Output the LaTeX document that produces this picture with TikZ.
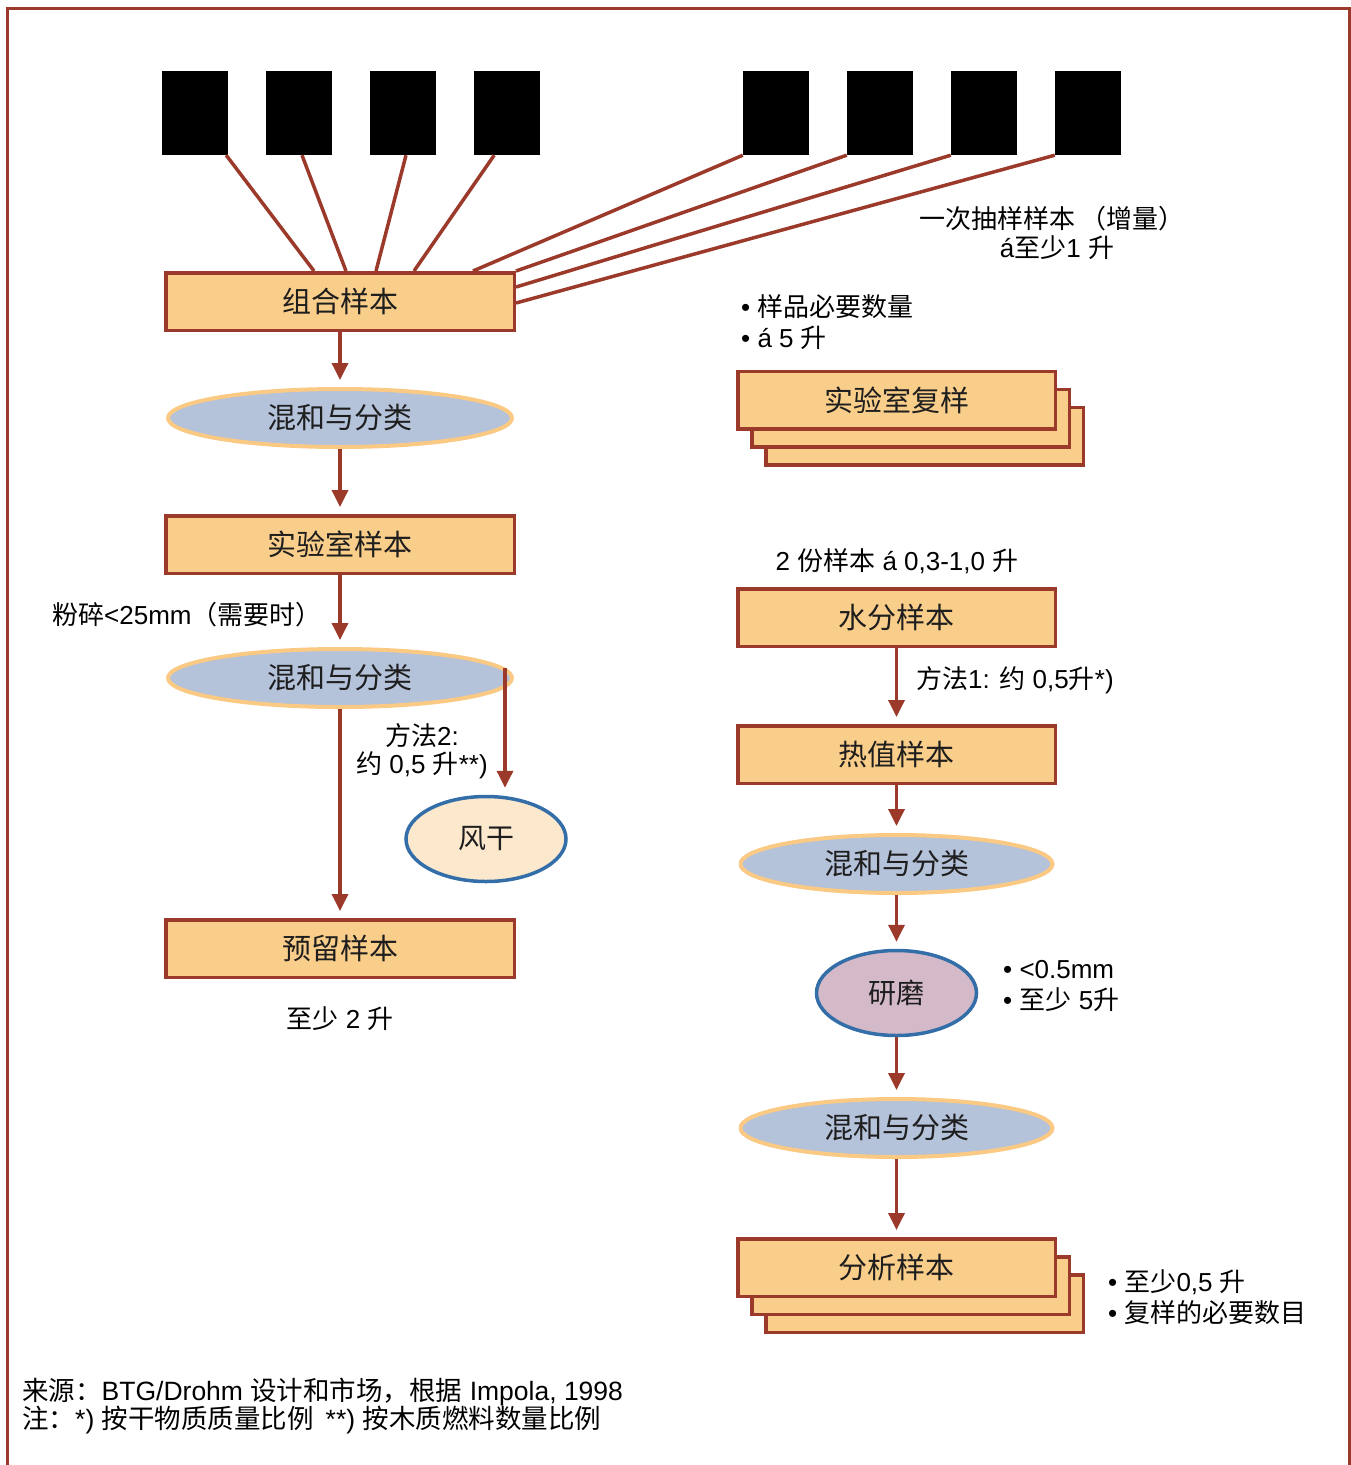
\documentclass[tikz,border=0pt]{standalone}
\usepackage{fontspec}
\setmainfont{Liberation Sans}
\newfontfamily\cjk{Noto Sans CJK SC}
\usetikzlibrary{shapes.geometric,arrows.meta,calc}
\definecolor{brn}{RGB}{155,58,42}
\definecolor{boxfill}{RGB}{249,205,138}
\definecolor{mixfill}{RGB}{180,194,218}
\definecolor{mixline}{RGB}{250,201,131}
\definecolor{airfill}{RGB}{252,233,205}
\definecolor{blueline}{RGB}{52,110,168}
\definecolor{grindfill}{RGB}{212,186,200}
\definecolor{txt}{RGB}{30,30,30}
\newcommand\zh[1]{{\cjk #1}}
\begin{document}
\begin{tikzpicture}[x=1pt,y=-1pt,
  sq/.style={fill=black, minimum width=66pt, minimum height=84pt, inner sep=0pt},
  box/.style={draw=brn, line width=3.5pt, fill=boxfill, minimum width=348.5pt, minimum height=57.5pt, inner sep=0pt, text=txt, font=\cjk\fontsize{29}{31}\selectfont},
  rbox/.style={box, minimum width=317.5pt},
  mix/.style={ellipse, draw=mixline, line width=4pt, fill=mixfill, minimum width=344pt, minimum height=58pt, inner sep=0pt, text=txt, font=\cjk\fontsize{29}{31}\selectfont},
  rmix/.style={mix, minimum width=312pt},
  oval/.style={ellipse, draw=blueline, line width=3.5pt, minimum width=160pt, minimum height=85pt, inner sep=0pt, text=txt, font=\cjk\fontsize{28}{30}\selectfont},
  lnk/.style={brn, line width=3.5pt},
  arr/.style={brn, line width=3.5pt, -{Triangle[length=17pt,width=16pt]}, shorten >=7pt},
  note/.style={inner sep=0pt, text=black, font=\fontsize{26}{31}\selectfont}
]
\useasboundingbox (0,0) rectangle (1351,1465);
% frame
\draw[brn, line width=3pt] (7,1475) -- (7,8) -- (1349,8) -- (1349,1475);

% sample squares
\node[sq] (s1) at (195,113) {};
\node[sq] (s2) at (299,113) {};
\node[sq] (s3) at (403,113) {};
\node[sq] (s4) at (507,113) {};
\node[sq] (s5) at (776,113) {};
\node[sq] (s6) at (880,113) {};
\node[sq] (s7) at (984,113) {};
\node[sq] (s8) at (1088,113) {};

% boxes left
\node[box] (comb) at (340,301.5) {组合样本};
\node[mix] (mix1) at (340,418) {混和与分类};
\node[box] (lab) at (340,544.5) {实验室样本};
\node[mix] (mix2) at (340,678) {混和与分类};
\node[oval, fill=airfill] (air) at (486,839) {风干};
\node[box] (keep) at (340,948.5) {预留样本};

% links from squares
\draw[lnk] ([xshift=-2pt]s1.south east) -- ([xshift=150pt]comb.north west);
\draw[lnk] ([xshift=3pt]s2.south) -- ([xshift=182pt]comb.north west);
\draw[lnk] ([xshift=3pt]s3.south) -- ([xshift=212pt]comb.north west);
\draw[lnk] ([xshift=-46pt]s4.south east) -- ([xshift=250pt]comb.north west);
\draw[lnk] (s5.south west) -- ([xshift=309pt]comb.north west);
\draw[lnk] (s6.south west) -- (comb.north east);
\draw[lnk] (s7.south west) -- ([yshift=-16pt]comb.north east);
\draw[lnk] (s8.south west) -- ([yshift=-32pt]comb.north east);

% left arrows
\draw[arr] (comb.south) -- (mix1.north);
\draw[arr] (mix1.south) -- (lab.north);
\draw[arr] (lab.south) -- (mix2.north);
\draw[arr] (mix2.south) -- (keep.north);
\coordinate (brs) at ($(mix2.center)+(165,-10)$);
\coordinate (bre) at ($(air.north)+(19,0)$);
\draw[arr] (brs) -- (bre);

% right boxes
\node[rbox] (dup3) at (924.5,436) {};
\node[rbox] (dup2) at (910.5,418) {};
\node[rbox] (dup) at (896.5,400) {实验室复样};
\node[rbox] (water) at (896.5,617.5) {水分样本};
\node[rbox] (heat) at (896.5,754.5) {热值样本};
\node[rmix] (mix3) at (896.5,864) {混和与分类};
\node[oval, fill=grindfill] (grind) at (896.5,993) {研磨};
\node[rmix] (mix4) at (896.5,1128) {混和与分类};
\node[rbox] (ana3) at (924.5,1303.5) {};
\node[rbox] (ana2) at (910.5,1285.5) {};
\node[rbox] (ana) at (896.5,1267.5) {分析样本};

\draw[arr] (water.south) -- (heat.north);
\draw[arr] (heat.south) -- (mix3.north);
\draw[arr] (mix3.south) -- (grind.north);
\draw[arr] (grind.south) -- (mix4.north);
\draw[arr] (mix4.south) -- (ana.north);

% labels
\node[note, anchor=west] (t1) at (52,615) {\zh{粉碎}<25mm\zh{（需要时）}};
\node[note, align=center] (t2) at (422,751) {\zh{方法}2:\\[-3pt]\zh{约} 0,5 \zh{升}**)};
\node[note] (t3) at (340,1019) {\zh{至少} 2 \zh{升}};
\node[note, align=center, font=\fontsize{26}{29}\selectfont] (t4) at (1052,233) {\zh{一次抽样样本 （增量）}\\\hspace*{10pt}á\zh{至少}1 \zh{升}};
\node[note, align=left, anchor=west] (t5) at (741,322) {• \zh{样品必要数量}\\• á 5 \zh{升}};
\node[note] (t6) at (897,561) {2 \zh{份样本} á 0,3-1,0 \zh{升}};
\node[note, anchor=west] (t7) at (916,680) {\zh{方法}1: \zh{约} 0,5\zh{升}*)};
\node[note, align=left, anchor=west] (t8) at (1003,986) {• <0.5mm\\• \zh{至少} 5\zh{升}};
\node[note, align=left, anchor=west] (t9) at (1108,1297) {• \zh{至少}0,5 \zh{升}\\• \zh{复样的必要数目}};
\node[note, align=left, anchor=west, font=\fontsize{26.5}{27}\selectfont] (t10) at (22,1406) {\zh{来源：}BTG/Drohm \zh{设计和市场，根据} Impola, 1998\\\zh{注：}*) \zh{按干物质质量比例}\hspace{12pt}**) \zh{按木质燃料数量比例}};
\end{tikzpicture}
\end{document}
